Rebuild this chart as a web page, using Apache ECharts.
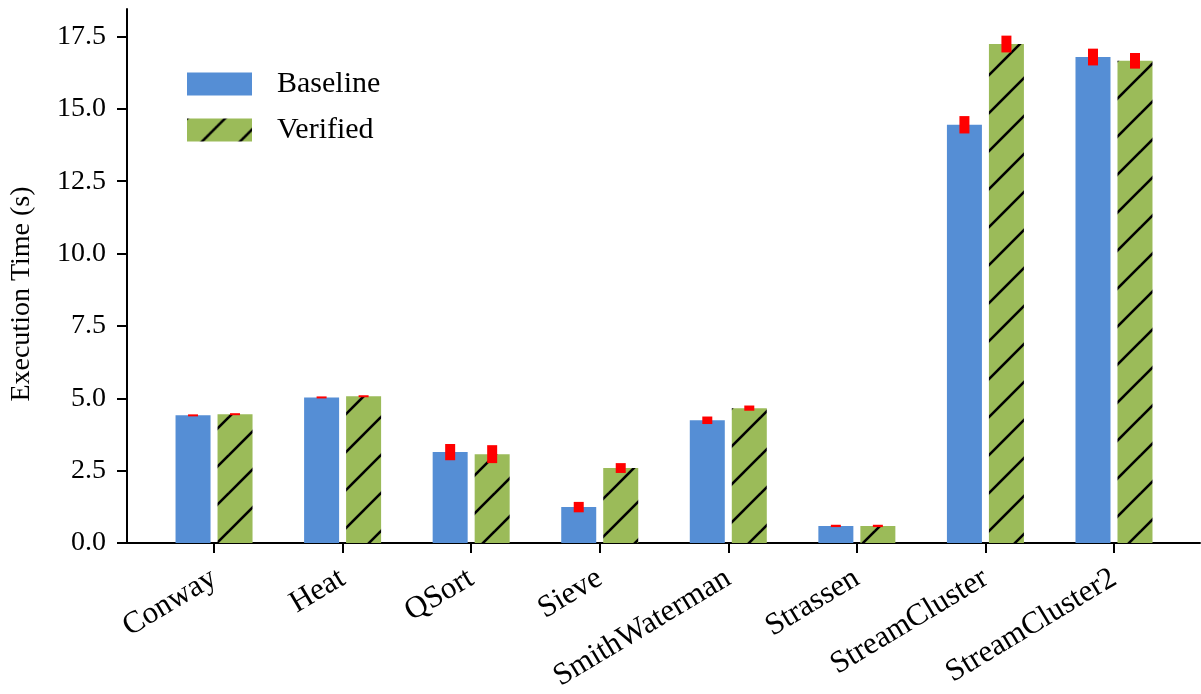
<!DOCTYPE html>
<html>
<head>
<meta charset="utf-8">
<script src="https://cdn.jsdelivr.net/npm/echarts@6/dist/echarts.min.js"></script>
<style>
  html, body { margin: 0; padding: 0; background: #fff; }
  #main { width: 1201px; height: 694px; }
</style>
</head>
<body>
<div id="main"></div>
<script>
var benchmarks = ['Conway', 'Heat', 'QSort', 'Sieve', 'SmithWaterman', 'Strassen', 'StreamCluster', 'StreamCluster2'];
var baseline = [4.41, 5.03, 3.14, 1.24, 4.24, 0.59, 14.45, 16.79];
var baselineErr = [0.02, 0.01, 0.28, 0.18, 0.13, 0.04, 0.30, 0.29];
var verified = [4.45, 5.07, 3.07, 2.59, 4.66, 0.59, 17.24, 16.66];
var verifiedErr = [0.02, 0.02, 0.31, 0.17, 0.09, 0.04, 0.29, 0.27];
var yTicks = [0, 2.5, 5, 7.5, 10, 12.5, 15, 17.5];

var font = 'Liberation Serif';

// hatch "/" for the verified bars
function hatch() {
    var s = 38;
    var c = document.createElement('canvas');
    c.width = s; c.height = s;
    var ctx = c.getContext('2d');
    ctx.fillStyle = '#9bbb59';
    ctx.fillRect(0, 0, s, s);
    ctx.strokeStyle = '#000';
    ctx.lineWidth = 2.6;
    for (var k = -1; k <= 1; k++) {
        ctx.beginPath();
        ctx.moveTo(k * s - 2, s + 2);
        ctx.lineTo(k * s + s + 2, -2);
        ctx.stroke();
    }
    return c;
}

function pairs(vals) {
    return vals.map(function (v, i) { return [i, v]; });
}
function errData(vals, errs) {
    return vals.map(function (v, i) { return [i, v, errs[i]]; });
}
function errBar(shift) {
    return function (params, api) {
        var x = api.value(0), y = api.value(1), e = api.value(2);
        var top = api.coord([x, y + e]);
        var bot = api.coord([x, y - e]);
        var h = Math.max(bot[1] - top[1], 2);
        return {
            type: 'rect',
            shape: { x: top[0] + shift - 5, y: (top[1] + bot[1]) / 2 - h / 2, width: 10, height: h },
            style: { fill: '#ff0000' }
        };
    };
}

var chart = echarts.init(document.getElementById('main'), null, { renderer: 'canvas' });

var option = {
    animation: false,
    textStyle: { fontFamily: font },
    grid: { left: 127, right: 1, top: 9, bottom: 151, containLabel: false, outerBoundsMode: 'none' },
    legend: {
        left: 182, top: 64, orient: 'vertical',
        itemWidth: 65, itemHeight: 23, itemGap: 16,
        icon: 'rect',
        textStyle: { fontFamily: font, fontSize: 30, color: '#000', padding: [0, 0, 0, 20] },
        data: ['Baseline', 'Verified']
    },
    xAxis: {
        type: 'value',
        min: -0.677, max: 7.669,
        splitLine: { show: false },
        axisLine: { onZero: false, lineStyle: { color: '#000', width: 2 } },
        axisTick: { show: true, length: 10, lineStyle: { color: '#000', width: 2 },
            customValues: [0, 1, 2, 3, 4, 5, 6, 7] },
        axisLabel: {
            customValues: [0, 1, 2, 3, 4, 5, 6, 7],
            formatter: function (v) { return benchmarks[Math.round(v)]; },
            rotate: 31, margin: 33,
            fontFamily: font, fontSize: 31, color: '#000'
        }
    },
    yAxis: {
        type: 'value',
        min: 0, max: 18.45,
        name: 'Execution Time (s)',
        nameLocation: 'middle', nameRotate: 90, nameGap: 91,
        nameTextStyle: { fontFamily: font, fontSize: 28, color: '#000', padding: [0, 36, 0, 0] },
        splitLine: { show: false },
        axisLine: { show: true, onZero: false, lineStyle: { color: '#000', width: 2 } },
        axisTick: { show: true, length: 10, lineStyle: { color: '#000', width: 2 }, customValues: yTicks },
        axisLabel: {
            customValues: yTicks,
            formatter: function (v) { return v.toFixed(1); },
            margin: 21, fontFamily: font, fontSize: 28, color: '#000'
        }
    },
    series: [
        {
            name: 'Baseline', type: 'bar', data: pairs(baseline),
            barWidth: 35, barGap: '20%',
            itemStyle: { color: '#558ed5' }
        },
        {
            name: 'Verified', type: 'bar', data: pairs(verified),
            barWidth: 35, barGap: '20%',
            itemStyle: { color: { image: hatch(), repeat: 'repeat' } }
        },
        {
            name: 'BaselineErr', type: 'custom', data: errData(baseline, baselineErr),
            renderItem: errBar(-21), z: 5
        },
        {
            name: 'VerifiedErr', type: 'custom', data: errData(verified, verifiedErr),
            renderItem: errBar(21), z: 5
        }
    ]
};

chart.setOption(option);
</script>
</body>
</html>
